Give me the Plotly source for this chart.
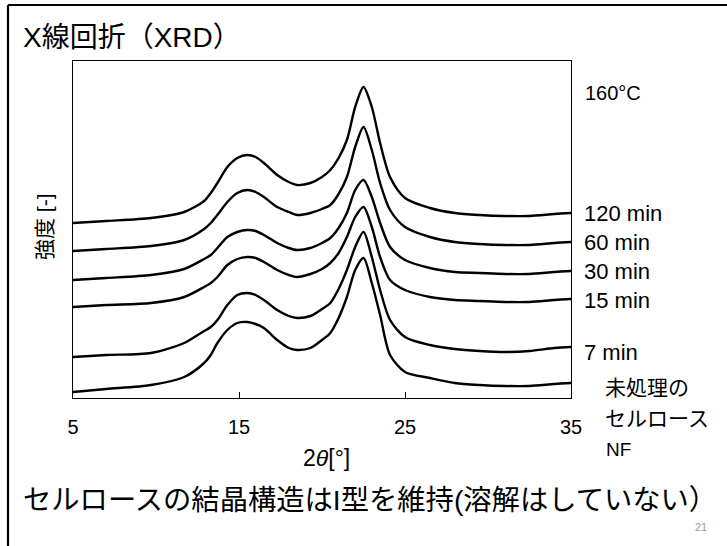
import plotly.graph_objects as go

# ---------------- data ----------------
two_theta = [5, 7, 9.7, 11.7, 12.9, 13.3, 13.7, 14.3, 14.9, 15.5, 16.0, 16.5, 17.3, 18.0,
             18.5, 19.3, 20.0, 20.5, 21.0, 21.5, 22.0, 22.5, 23.0, 23.5, 24.1, 25.0, 26.5,
             28.0, 29.5, 31.0, 32.5, 34.0, 35]

int_120min = [175, 177, 180, 186, 197, 205, 215, 231, 240, 243, 241, 235, 223, 216, 213, 215, 221,
              228, 240, 258, 291, 311, 291, 255, 221, 200, 190, 185, 183, 182, 182, 184, 185]
int_60min = [147, 149, 152, 158, 169, 175, 183, 196, 205, 208, 206, 201, 191, 186, 183, 185, 189,
             193, 204, 221, 251, 271, 248, 215, 188, 171, 161, 156, 154, 153, 153, 155, 156]
int_30min = [118, 120, 123, 129, 139, 143, 150, 161, 166, 168, 167, 163, 155, 150, 148, 150, 155,
             160, 170, 185, 208, 218, 201, 175, 151, 138, 130, 126, 125, 124, 124, 126, 127]
int_15min = [91, 93, 95, 101, 111, 115, 121, 133, 139, 141, 140, 136, 128, 123, 121, 124, 129,
             135, 145, 161, 181, 191, 171, 141, 118, 108, 101, 98, 97, 96, 96, 98, 99]
int_7min = [41, 43, 45, 55, 67, 71, 78, 93, 103, 105, 103, 98, 88, 82, 80, 82, 89,
            95, 109, 128, 151, 166, 141, 108, 78, 61, 53, 49, 47, 46, 47, 50, 51]
int_untreated = [6, 9, 13, 21, 35, 43, 55, 68, 75, 76, 74, 70, 58, 50, 48, 50, 58,
                 65, 80, 101, 128, 140, 115, 83, 43, 26, 20, 15, 13, 12, 12, 14, 15]

series = [int_120min, int_60min, int_30min, int_15min, int_7min, int_untreated]
series_names = ["120 min", "60 min", "30 min", "15 min", "7 min", "未処理のセルロースNF"]

x_tickvals = [5, 15, 25, 35]
x_ticktext = ["5", "15", "25", "35"]

# ---------------- layout constants (pixels) ----------------
W, H = 727, 546
L, R, T, B = 73, 571, 61, 398
PW, PH = R - L, B - T


def px(x):
    return (x - L) / PW


def py(y):
    return (B - y) / PH


LAT = "Liberation Sans, Noto Sans CJK JP, sans-serif"
JP = "Noto Sans CJK JP, sans-serif"

fig = go.Figure()
for vals, name in zip(series, series_names):
    fig.add_trace(go.Scatter(x=two_theta, y=vals, mode="lines", name=name,
                             line=dict(color="black", width=2.4, shape="spline", smoothing=0.8),
                             showlegend=False, hoverinfo="skip"))

fig.update_layout(
    width=W, height=H,
    margin=dict(l=L, r=W - R, t=T, b=H - B, pad=0),
    paper_bgcolor="white", plot_bgcolor="white",
    font=dict(family=LAT, color="black"),
)
fig.update_xaxes(range=[5, 35], tickvals=x_tickvals, ticktext=x_ticktext,
                 ticks="inside", ticklen=6, tickwidth=1.3, tickcolor="black",
                 showline=True, linecolor="black", linewidth=1.3, mirror=True,
                 showgrid=False, zeroline=False,
                 tickfont=dict(family=LAT, size=20, color="black"), ticklabelstandoff=11)
fig.update_yaxes(range=[0, PH], showticklabels=False, ticks="",
                 showline=True, linecolor="black", linewidth=1.3, mirror=True,
                 showgrid=False, zeroline=False)

# slide border (top + left)
fig.add_shape(type="line", xref="paper", yref="paper", x0=px(8), x1=px(W + 2), y0=py(5), y1=py(5),
              line=dict(color="black", width=2.2))
fig.add_shape(type="line", xref="paper", yref="paper", x0=px(8), x1=px(8), y0=py(5), y1=py(H + 2),
              line=dict(color="black", width=2.2))


def ann(text, x, y, size, xanchor="left", family=LAT, color="black", angle=0):
    fig.add_annotation(text=text, x=px(x), y=py(y), xref="paper", yref="paper",
                       xanchor=xanchor, yanchor="middle", showarrow=False, textangle=angle,
                       font=dict(family=family, size=size, color=color))


ann("X線回折（XRD）", 21, 38, 28)
ann("160°C", 583, 93, 20)
label_y = [213, 242, 271, 300, 352]
for name, yy in zip(series_names[:5], label_y):
    ann(name, 582, yy, 22)
ann("未処理の", 603, 386, 21, family=JP)
ann("セルロース", 603, 417, 21, family=JP)
ann("NF", 604, 449, 19)
ann("2<i>θ</i>[°]", 326, 458, 23, xanchor="center")
ann("強度 [-]", 44, 227, 21, xanchor="center", angle=-90)
ann("セルロースの結晶構造はI型を維持(溶解はしていない）", 370, 500, 28.3, xanchor="center")
ann("21", 701, 527, 11, xanchor="center", color="#999999")

fig.write_html("out.html", config={"displayModeBar": False},
               post_script="document.body.style.margin='0px';")
